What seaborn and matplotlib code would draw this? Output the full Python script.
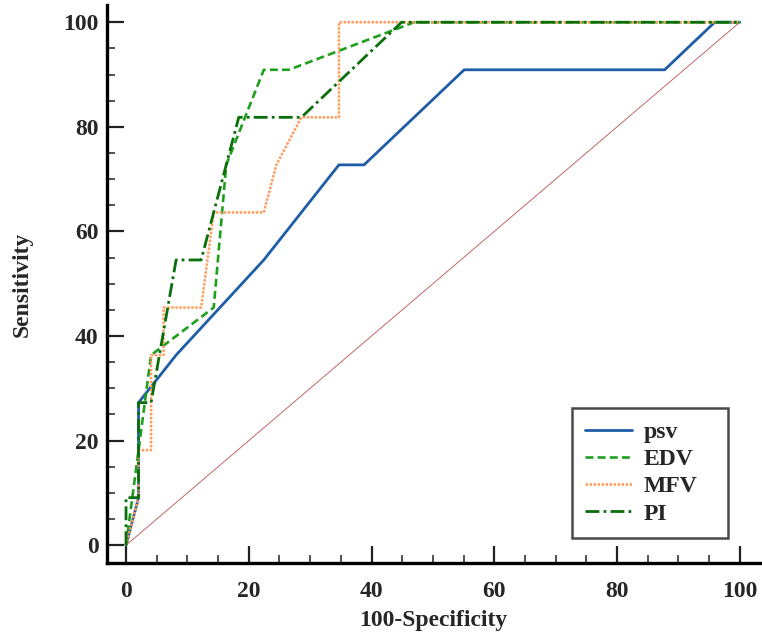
import pandas as pd
import seaborn as sns
import matplotlib.pyplot as plt
import numpy as np
from matplotlib.ticker import MultipleLocator

# ROC curves (100-Specificity, Sensitivity)
psv_x = [0, 2.04, 2.04, 8.16, 22.45, 34.69, 38.78, 55.10, 87.76, 95.92, 100]
psv_y = [0, 9.09, 27.27, 36.36, 54.55, 72.73, 72.73, 90.91, 90.91, 100, 100]

edv_x = [0, 2.04, 4.08, 14.29, 16.33, 22.45, 26.53, 46.94, 100]
edv_y = [0, 18.18, 36.36, 45.45, 72.73, 90.91, 90.91, 100, 100]

mfv_x = [0, 2.04, 2.04, 4.08, 4.08, 6.12, 6.12, 12.24, 14.29, 22.45, 24.49, 28.57, 34.69, 34.69, 100]
mfv_y = [0, 9.09, 18.18, 18.18, 36.36, 36.36, 45.45, 45.45, 63.64, 63.64, 72.73, 81.82, 81.82, 100, 100]

pi_x = [0, 0, 2.04, 2.04, 4.08, 8.16, 12.24, 18.37, 28.57, 44.90, 100]
pi_y = [0, 9.09, 9.09, 27.27, 27.27, 54.55, 54.55, 81.82, 81.82, 100, 100]

ref_line = [0, 100]

series = ['psv', 'EDV', 'MFV', 'PI']
xs = [psv_x, edv_x, mfv_x, pi_x]
ys = [psv_y, edv_y, mfv_y, pi_y]
colors = ['#1f5da6', '#1ea01e', '#ff9c5c', '#0a6e0a']
styles = ['-', (0, (3, 1.6)), (0, (1, 0.6)), (0, (5, 1.5, 1, 1.5))]
widths = [2.0, 1.9, 1.8, 2.0]

sns.set_style('ticks')
plt.rcParams['font.family'] = ['Liberation Serif', 'DejaVu Serif']
plt.rcParams['font.weight'] = 'bold'

fig = plt.figure(figsize=(7.62, 6.35), dpi=100)
ax = fig.add_axes([107 / 762, 72 / 635, 653 / 762, 558 / 635])

ax.plot(ref_line, ref_line, color='#c06868', lw=0.7)

for name, x, y, c, ls, lw in zip(series, xs, ys, colors, styles, widths):
    df = pd.DataFrame({'fpr': x, 'sens': y})
    sns.lineplot(data=df, x='fpr', y='sens', sort=False, estimator=None,
                 color=c, linestyle=ls, lw=lw, label=name, ax=ax)

ax.set_xlim(-3.1, 103.3)
ax.set_ylim(-3.4, 103.3)
ax.xaxis.set_major_locator(MultipleLocator(20))
ax.xaxis.set_minor_locator(MultipleLocator(5))
ax.yaxis.set_major_locator(MultipleLocator(20))
ax.yaxis.set_minor_locator(MultipleLocator(5))
ax.tick_params(which='major', direction='in', length=12, width=1.6, color='#222222')
ax.tick_params(which='minor', direction='in', length=6, width=1.1, color='#222222')
ax.tick_params(axis='x', which='major', pad=13, labelsize=17)
ax.tick_params(axis='y', which='major', pad=6, labelsize=17)
for lab in ax.get_xticklabels() + ax.get_yticklabels():
    lab.set_fontweight('bold')

sns.despine(ax=ax)
for s in ['left', 'bottom']:
    ax.spines[s].set_linewidth(2.4)
    ax.spines[s].set_color('black')

ax.set_xlabel('100-Specificity', fontsize=17, fontweight='bold', labelpad=6)
ax.set_ylabel('Sensitivity', fontsize=17, fontweight='bold', labelpad=22)

leg = ax.legend(loc='upper left', bbox_to_anchor=(0.712, 0.277, 0.239, 0.0),
                mode='expand', fancybox=False,
                framealpha=1, edgecolor='#4a4a4a', prop={'size': 17, 'weight': 'bold'},
                handlelength=2.0, handletextpad=0.5, labelspacing=0.24,
                borderpad=0.55, borderaxespad=0)
leg.get_frame().set_linewidth(1.8)

plt.savefig('out.png', dpi=100)
